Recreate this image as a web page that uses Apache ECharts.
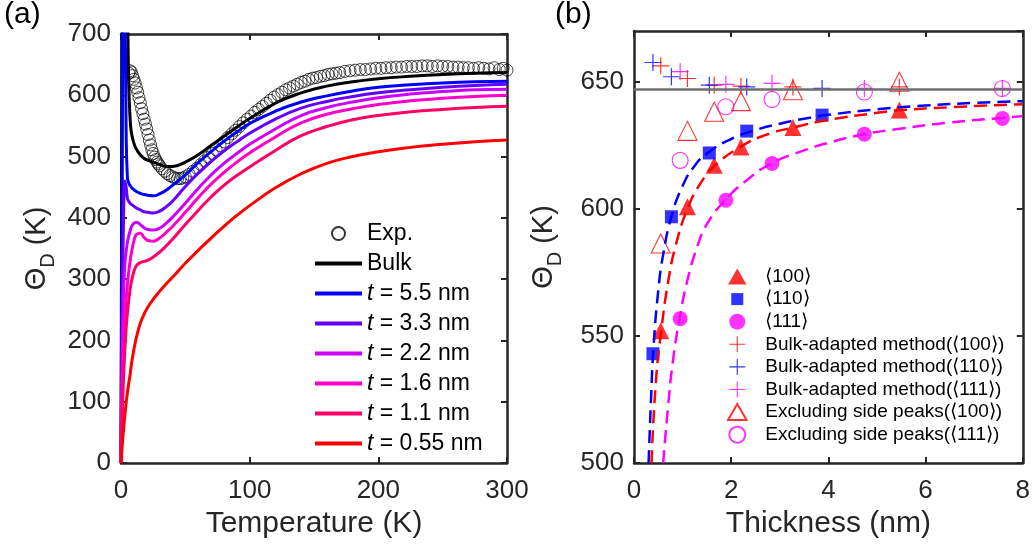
<!DOCTYPE html>
<html><head><meta charset="utf-8">
<script src="https://cdn.jsdelivr.net/npm/echarts@6/dist/echarts.min.js"></script>
<style>html,body{margin:0;padding:0;background:#fff}#c{width:1033px;height:547px}</style>
</head><body><div id="c"></div><script>
// ---------- Panel (a) data ----------
const tempK = [0,1,2,3,4,5,6,7,8,10,12,15,18,21,25,30,35,40,50,60,70,80,90,100,120,140,160,180,200,225,250,275,300];
const thetaBulk = [0,900,950,950,900,760,620,565,540,522,512,503,497,494,491,487,484,484,491,503,518,533,548,562,587,604,615,622,627,631,634,636,637];
const theta55  = [0,500,950,800,540,465,457,453,450,446,443,440,438,437,436,439,445,453,470,490,508,525,540,554,574,589,599,607,613,617,620,622,623];
const theta33  = [0,250,400,460,450,432,427,424,422,419,416,413,410,409,408,411,418,427,451,473,492,509,524,538,561,579,590,598,604,609,613,616,618];
const theta22  = [0,180,280,325,345,360,370,378,385,391,393,389,384,381,380,383,391,401,424,448,470,489,505,520,545,567,580,589,596,602,606,609,610];
const theta16  = [0,120,195,240,268,292,312,328,342,362,373,375,368,363,362,367,376,386,409,433,455,474,491,506,532,555,569,578,585,591,595,598,600];
const theta11  = [0,80,140,185,220,245,265,282,295,312,322,327,329,331,336,344,354,365,389,412,434,453,469,483,510,534,549,560,567,573,577,580,582];
const theta055 = [0,30,55,78,98,115,130,143,160,185,205,228,243,255,267,280,292,303,326,347,367,386,404,420,449,472,489,500,508,515,520,524,527];
const expT     = [6,7,8,9,10,11,12,13,14,15,16,17,18,19,20,21,22,23,24,25,26,27,28,29,30,32,34,36,38,40,42,44,46,48,50,53,56,59,62,65,68,71,74,77,80,83,86,89,92,95,98,101,104,107,110,113,116,119,122,125,128,131,134,137,140,143,146,149,152,155,158,161,164,167,170,174,178,182,186,190,194,198,202,206,210,214,218,222,226,230,234,238,242,246,250,254,258,262,266,270,274,278,282,286,290,294,297,300];
const expTheta = [636,640,638,632,626,620,612,605,596,588,578,570,561,553,545,536,527,519,511,505,499,495,491,488,485,480,476,472,469,467,465,464,464,465,467,471,476,481,487,493,499,505,511,518,524,531,537,543,549,555,561,566,572,577,582,587,592,597,601,605,609,612,615,618,621,623,626,628,629,631,632,634,635,636,637,639,640,641,642,642,643,644,644,645,645,646,646,647,647,647,648,648,647,648,647,647,646,646,645,645,644,645,644,643,645,642,644,641];
const legendA = ['Exp.','Bulk','t = 5.5 nm','t = 3.3 nm','t = 2.2 nm','t = 1.6 nm','t = 1.1 nm','t = 0.55 nm'];

// ---------- Panel (b) data ----------
const t100 = [0.55,1.1,1.65,2.2,3.27,5.46];
const th100 = [552,600.8,617.2,624.4,632,638.9];
const t110 = [0.39,0.77,1.55,2.32,3.87];
const th110 = [543,596.9,622,630.6,636.9];
const t111 = [0.95,1.89,2.84,4.74,7.58];
const th111 = [556.8,603.4,617.9,629.4,635.6];
const bulkAd100 = [656.3,651.3,648.7,648.3,648,648];
const bulkAd110 = [657.6,652,648.7,648,647.4];
const bulkAd111 = [654,649,649.4,647.4,647.4];
const excl100 = [586.4,630.7,638.2,642.4,646.7,650];
const excl111 = [619.1,640.2,643.1,646,647.4];
const fitT110 = [0.30,0.35,0.4,0.5,0.6,0.77,1.0,1.25,1.55,2.0,2.5,3.0,3.5,4.0,5.0,6.0,7.0,8.0];
const fit110  = [500,525,545,568,582,597,609,617,622.5,627.5,631,633.5,635.5,637,639.2,640.7,641.7,642.4];
const fitT100 = [0.36,0.45,0.56,0.7,0.85,1.11,1.4,1.66,2.2,2.7,3.27,4.0,5.0,5.46,6.5,8.0];
const fit100  = [500,532,552,571,585,600.5,611,617,624.5,629,632,635,637.8,638.8,640,641.2];
const fitT111 = [0.6,0.7,0.8,0.94,1.1,1.3,1.5,1.88,2.3,2.84,3.5,4.0,4.74,5.5,6.5,7.58,8.0];
const fit111  = [500,522,540,557,572,585,594,603.5,611,618,623,626,629.4,631.6,634,635.8,636.5];
const bulkRefT = [0,8];
const bulkRefTheta = 647;
const legendB = ['⟨100⟩','⟨110⟩','⟨111⟩','Bulk-adapted method(⟨100⟩)','Bulk-adapted method(⟨110⟩)','Bulk-adapted method(⟨111⟩)','Excluding side peaks(⟨100⟩)','Excluding side peaks(⟨111⟩)'];

// ---------- styling ----------
const FONT = "'Liberation Sans', Arial, Helvetica, sans-serif";
const AX = '#262626';
const PLUS = 'path://M-0.7,-10H0.7V-0.7H10V0.7H0.7V10H-0.7V0.7H-10V-0.7H-0.7Z';
const LINEICON = 'path://M0,0H48V4H0Z';
const TRI = 'path://M0,-10L11,9H-11Z';
const SQ = 'path://M-2,-2M0,0H12V12H0ZM14,14';
const CIRC = 'path://M-8,0A8,8,0,1,0,8,0A8,8,0,1,0,-8,0Z';
const zip = (xs, ys) => xs.map((x, i) => [x, Array.isArray(ys) ? ys[i] : ys]);

function xAx(grid, min, max, interval, top, name) {
  return {
    type: 'value', gridIndex: grid, min, max, interval, position: top ? 'top' : 'bottom',
    axisLine: {show: true, onZero: false, lineStyle: {color: AX, width: 2.5}},
    axisTick: {show: true, inside: true, length: 6, lineStyle: {color: AX, width: 2}},
    axisLabel: {show: !top, margin: 15, fontSize: 26, color: AX, fontFamily: FONT},
    splitLine: {show: false},
    name: top ? '' : name, nameLocation: 'middle', nameGap: 43,
    nameTextStyle: {fontSize: 30, color: AX, fontFamily: FONT}
  };
}
function yAx(grid, min, max, interval, right, gap) {
  return {
    type: 'value', gridIndex: grid, min, max, interval, position: right ? 'right' : 'left',
    axisLine: {show: true, onZero: false, lineStyle: {color: AX, width: 2.5}},
    axisTick: {show: true, inside: true, length: 6, lineStyle: {color: AX, width: 2}},
    axisLabel: {show: !right, margin: 10, fontSize: 26, color: AX, fontFamily: FONT, showMaxLabel: grid === 0},
    splitLine: {show: false},
    name: right ? '' : '{t|Θ}{s|D}{t| (K)}', nameLocation: 'middle', nameGap: gap,
    nameTextStyle: {color: AX, fontFamily: FONT, rich: {
      t: {fontSize: 29, lineHeight: 42, color: AX, fontFamily: FONT},
      s: {fontSize: 20, verticalAlign: 'bottom', color: AX, fontFamily: FONT}
    }}
  };
}

const colsA = ['#000000','#0000ff','#6600ff','#cc00ff','#ff00cc','#ff0066','#ff0000'];
const curvesA = [thetaBulk, theta55, theta33, theta22, theta16, theta11, theta055];

const series = [];
series.push({
  name: 'Exp.', type: 'scatter', xAxisIndex: 0, yAxisIndex: 0, data: zip(expT, expTheta),
  symbol: 'circle', symbolSize: 12,
  itemStyle: {color: 'rgba(0,0,0,0)', borderColor: '#000', borderWidth: 0.9}
});
curvesA.forEach((arr, i) => {
  series.push({
    name: legendA[i + 1], type: 'line', xAxisIndex: 0, yAxisIndex: 0, data: zip(tempK, arr),
    symbol: 'none', smooth: 0.5,
    lineStyle: {color: colsA[i], width: 3}, itemStyle: {color: colsA[i]}
  });
});
// panel (b)
series.push({name: 'bulkref', type: 'line', xAxisIndex: 2, yAxisIndex: 2, data: zip(bulkRefT, bulkRefTheta),
  symbol: 'none', lineStyle: {color: '#6e6e6e', width: 2.5}});
[[fitT110, fit110, '#0000ff'], [fitT100, fit100, '#ff0000'], [fitT111, fit111, '#ff00ff']].forEach(([xs, ys, c], k) => {
  series.push({name: 'fit' + k, type: 'line', xAxisIndex: 2, yAxisIndex: 2, data: zip(xs, ys),
    symbol: 'none', smooth: 0.5,
    lineStyle: {color: c, width: 2.5, type: [13, 7]}});
});
const scB = [
  [legendB[3], t100, bulkAd100, PLUS, 17, {color: '#ff0000'}, PLUS],
  [legendB[4], t110, bulkAd110, PLUS, 17, {color: '#0000ff'}, PLUS],
  [legendB[5], t111, bulkAd111, PLUS, 17, {color: '#ff00ff'}, PLUS],
  [legendB[6], t100, excl100, 'triangle', 19, {color: 'rgba(0,0,0,0)', borderColor: '#ff0000', borderWidth: 1.1}, TRI],
  [legendB[7], t111, excl111, 'circle', 16, {color: 'rgba(0,0,0,0)', borderColor: '#ff00ff', borderWidth: 1.1}, CIRC],
  [legendB[0], t100, th100, 'triangle', 17, {color: '#ff0000'}, TRI],
  [legendB[1], t110, th110, 'rect', 13, {color: '#0000ff'}, SQ],
  [legendB[2], t111, th111, 'circle', 15, {color: '#ff00ff'}, CIRC]
];
const legendIconB = {};
scB.forEach(([name, xs, ys, sym, size, st, icon]) => {
  legendIconB[name] = icon;
  series.push({name, type: 'scatter', xAxisIndex: 2, yAxisIndex: 2, data: zip(xs, ys),
    symbol: sym, symbolSize: size, symbolKeepAspect: true, itemStyle: st});
});

const option = {
  animation: false,
  backgroundColor: '#fff',
  textStyle: {fontFamily: FONT},
  grid: [
    {left: 121, top: 34, width: 386, height: 429},
    {left: 634, top: 31, width: 390, height: 432}
  ],
  xAxis: [xAx(0, 0, 300, 100, false, 'Temperature (K)'), xAx(0, 0, 300, 100, true),
          xAx(1, 0, 8, 2, false, 'Thickness (nm)'), xAx(1, 0, 8, 2, true)],
  yAxis: [yAx(0, 0, 700, 100, false, 63), yAx(0, 0, 700, 100, true),
          yAx(1, 500, 670, 50, false, 69), yAx(1, 500, 670, 50, true)],
  legend: [
    {orient: 'vertical', left: 310, top: 217, itemWidth: 47, itemHeight: 13, itemGap: 7, symbolKeepAspect: true,
     data: legendA.map((n, i) => i === 0 ? {name: n} : {name: n, icon: LINEICON}), selectedMode: false,
     textStyle: {fontSize: 23, lineHeight: 23, color: '#000', fontFamily: FONT,
       rich: {i: {fontStyle: 'italic', fontSize: 23, lineHeight: 23, color: '#000', fontFamily: FONT},
              n: {fontSize: 23, lineHeight: 23, color: '#000', fontFamily: FONT}}},
     formatter: n => n.charAt(0) === 't' ? '{i|t}{n|' + n.slice(1) + '}' : n},
    {orient: 'vertical', left: 722, top: 262, itemWidth: 46, itemHeight: 16, itemGap: 3.6, symbolKeepAspect: true,
     data: legendB.map(n => ({name: n, icon: legendIconB[n]})), selectedMode: false,
     textStyle: {fontSize: 19, lineHeight: 19, color: '#000', fontFamily: FONT}}
  ],
  graphic: [
    {type: 'text', left: 4, top: 0, style: {text: '(a)', font: '30px ' + FONT, fill: '#000'}},
    {type: 'text', left: 555, top: 0, style: {text: '(b)', font: '30px ' + FONT, fill: '#000'}}
  ],
  series
};
const chart = echarts.init(document.getElementById('c'), null, {renderer: 'canvas'});
chart.setOption(option);
</script></body></html>
